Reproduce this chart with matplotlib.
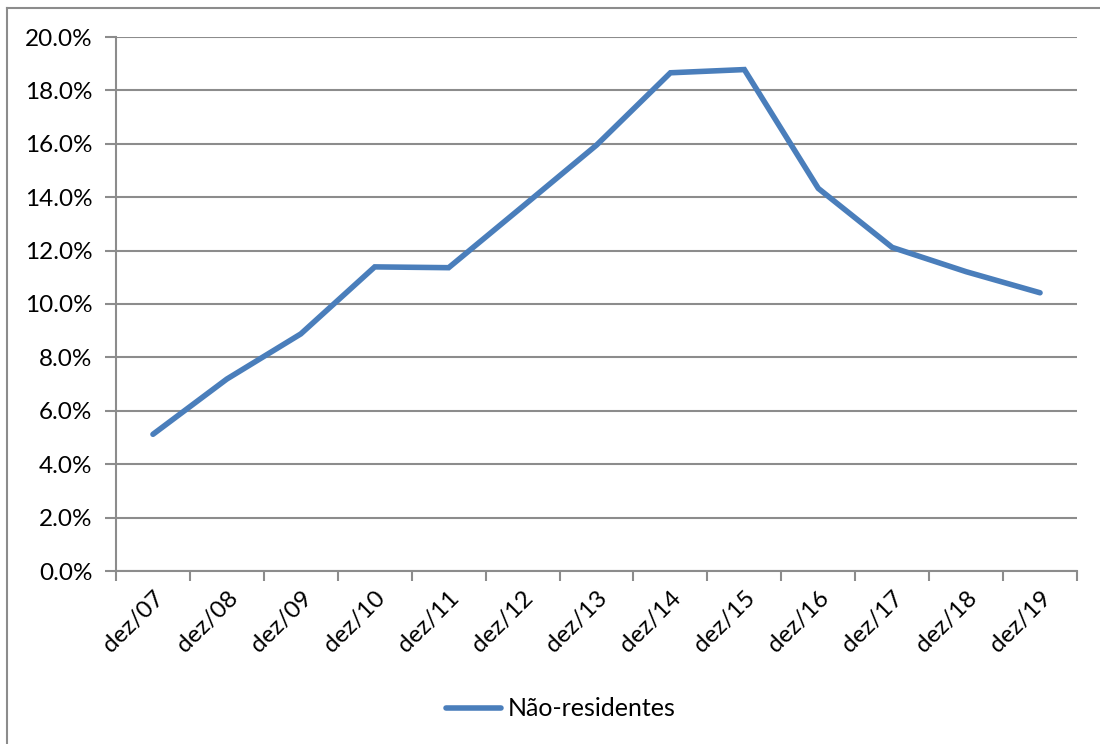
import matplotlib.pyplot as plt
from matplotlib.lines import Line2D
from matplotlib.ticker import FuncFormatter, FixedLocator
import numpy as np

plt.rcParams['font.family'] = ['Lato', 'DejaVu Sans']

categories = ['dez/07', 'dez/08', 'dez/09', 'dez/10', 'dez/11', 'dez/12', 'dez/13',
              'dez/14', 'dez/15', 'dez/16', 'dez/17', 'dez/18', 'dez/19']
nao_residentes = [5.12, 7.19, 8.88, 11.39, 11.36, 13.65, 15.95,
                  18.66, 18.78, 14.33, 12.12, 11.21, 10.42]

grey = '#8c8c8c'
blue = '#4a7ebb'

fig = plt.figure(figsize=(11, 7.44), dpi=100)
ax = fig.add_axes([116 / 1100, 1 - 571 / 744, (1077 - 116) / 1100, (571 - 37) / 744])

x = np.arange(len(categories)) + 0.5
ax.plot(x, nao_residentes, color=blue, lw=4, solid_capstyle='round',
        solid_joinstyle='miter', label='Não-residentes')

ax.set_xlim(0, len(categories))
ax.set_ylim(0, 20)
ax.set_yticks(np.arange(0, 20.1, 2))
ax.yaxis.set_major_formatter(FuncFormatter(lambda v, p: f'{v:.1f}%'))
ax.grid(axis='y', color=grey, lw=1.5)
ax.set_axisbelow(True)

ax.xaxis.set_major_locator(FixedLocator(np.arange(len(categories) + 1)))
ax.set_xticklabels([])
ax.xaxis.set_minor_locator(FixedLocator(x))
ax.set_xticklabels(categories, minor=True, rotation=45, ha='right',
                   rotation_mode='anchor', fontsize=17.5)
ax.tick_params(axis='x', which='minor', length=0, pad=12)
ax.tick_params(axis='x', which='major', length=7, width=1.5, color=grey)
ax.tick_params(axis='y', length=8, width=1.5, color=grey, labelsize=17.5, pad=9)

for s in ['top', 'right']:
    ax.spines[s].set_visible(False)
for s in ['left', 'bottom']:
    ax.spines[s].set_color(grey)
    ax.spines[s].set_linewidth(1.5)

fig.legend(loc='center', bbox_to_anchor=(561 / 1100, 1 - 709 / 744), frameon=False,
           fontsize=18, handlelength=2.2, handletextpad=0.25)

# outer frame (top and left edges visible)
fig.add_artist(Line2D([7 / 1100, 7 / 1100], [0, 1 - 8 / 744], color=grey, lw=1.5,
                      transform=fig.transFigure))
fig.add_artist(Line2D([7 / 1100, 1], [1 - 8 / 744, 1 - 8 / 744], color=grey, lw=1.5,
                      transform=fig.transFigure))

fig.savefig('out.png', dpi=100)
